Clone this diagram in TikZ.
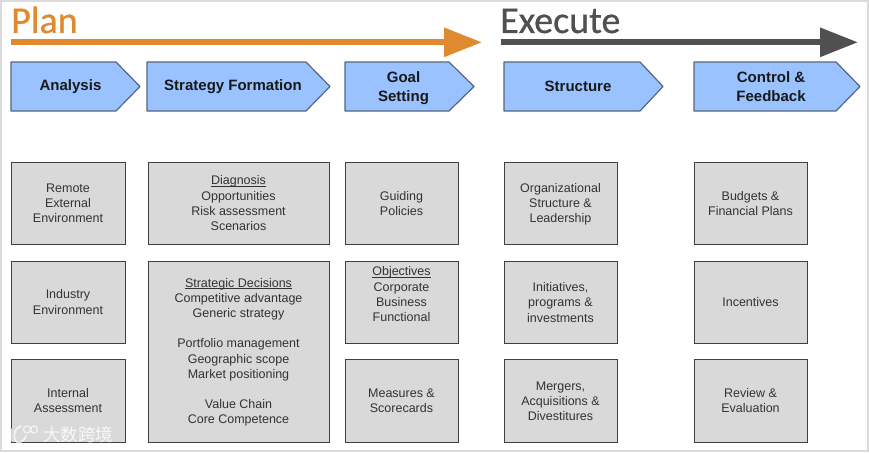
\documentclass[tikz,border=0pt]{standalone}
\usepackage{fontspec}
\setmainfont{Liberation Sans}
\newfontfamily\titlefont[FakeBold=0.6]{Carlito}
\newfontfamily\cjkfont{Noto Sans CJK SC}
\usetikzlibrary{arrows.meta,calc}
\definecolor{planor}{HTML}{E08A30}
\definecolor{execgr}{HTML}{505050}
\definecolor{chevblue}{HTML}{99C2FF}
\definecolor{chevedge}{HTML}{56667C}
\definecolor{boxgray}{HTML}{D9D9D9}
\definecolor{boxedge}{HTML}{404040}
\tikzset{
  x=1pt,y=-1pt,
  chev/.style={draw=chevedge,fill=chevblue,line width=1.2pt,line join=round},
  chevtext/.style={font=\bfseries\fontsize{15}{19}\selectfont,align=center,text=black!90,inner sep=0pt},
  infobox/.style={draw=boxedge,fill=boxgray,line width=1pt,minimum height=0pt,inner sep=0pt,outer sep=0pt},
  infotext/.style={font=\fontsize{12.5}{15.2}\selectfont,align=center,text=black!80,inner sep=0pt},
  banner/.style={line width=6pt,-{Triangle[length=38pt,width=28pt]}},
  titletext/.style={font=\titlefont\fontsize{38}{38}\selectfont,anchor=base west,inner sep=0pt},
  markmark/.style={white,opacity=.75,line cap=round},
}
\newcommand{\ulk}[1]{\underline{\smash{#1}\vphantom{A}}}
\newcommand{\chevron}[7]{% name, left, shoulder, tip, text x, text y, text
  \draw[chev] (#2,62) -- (#3,62) -- (#4,86.5) -- (#3,111) -- (#2,111) -- cycle;
  \node[chevtext] (#1) at (#5,#6) {#7};
}
\newcommand{\infocell}[7]{% name, x1, y1, x2, y2, text y, text
  \node[infobox,minimum width={(#4-#2-0.6)*1pt},minimum height={(#5-#3-0.6)*1pt}] (#1) at ({(#2+#4)/2},{(#3+#5)/2}) {};
  \node[infotext] (#1t) at ({(#2+#4)/2-0.5},#6) {#7};
}
\begin{document}
\begin{tikzpicture}
\useasboundingbox (0,0) rectangle (869,452);
\draw[draw=black!14,line width=2pt,fill=white] (1,1) rectangle (868,451);

\node[titletext,text=planor] (plan) at (11,33) {Plan};
\node[titletext,text=execgr] (execute) at (500,33) {Execute};
\coordinate (pa) at (11,42.3); \coordinate (pb) at (482,42.3);
\coordinate (ea) at (501,42.3); \coordinate (eb) at (858,42.3);
\draw[banner,draw=planor,fill=planor] (pa) -- (pb);
\draw[banner,draw=execgr,fill=execgr] (ea) -- (eb);

\chevron{analysis}{11}{116}{140}{70.5}{86.5}{Analysis}
\chevron{strategy}{147}{306}{330}{233}{86.5}{Strategy Formation}
\chevron{goal}{345}{449}{474}{403.5}{88}{Goal\\Setting}
\chevron{structure}{504}{640}{663}{578}{86.5}{Structure}
\chevron{control}{694}{836}{860}{771}{86.5}{Control \&\\Feedback}

\infocell{a1}{11}{162}{126}{245}{203.5}{Remote\\External\\Environment}
\infocell{a2}{11}{261}{126}{344}{302}{Industry\\Environment}
\infocell{a3}{11}{359}{126}{443}{400.5}{Internal\\Assessment}

\infocell{s1}{148}{162}{330}{245}{203.5}{\ulk{Diagnosis}\\Opportunities\\Risk assessment\\Scenarios}
\infocell{s2}{148}{261}{330}{443}{352.5}{\ulk{Strategic Decisions}\\Competitive advantage\\Generic strategy\\[15.2pt]Portfolio management\\Geographic scope\\Market positioning\\[15.2pt]Value Chain\\Core Competence}

\infocell{g1}{345}{162}{459}{245}{203.5}{Guiding\\Policies}
\infocell{g2}{345}{261}{459}{344}{294.5}{\ulk{Objectives}\\Corporate\\Business\\Functional}
\infocell{g3}{345}{359}{459}{443}{400.5}{Measures \&\\Scorecards}

\infocell{t1}{504}{162}{618}{245}{204}{Organizational\\Structure \&\\Leadership}
\infocell{t2}{504}{261}{618}{344}{302.5}{Initiatives,\\programs \&\\investments}
\infocell{t3}{504}{359}{618}{443}{401}{Mergers,\\Acquisitions \&\\Divestitures}

\infocell{c1}{694}{162}{808}{245}{203.5}{Budgets \&\\Financial Plans}
\infocell{c2}{694}{261}{808}{344}{302}{Incentives}
\infocell{c3}{694}{359}{808}{443}{400.5}{Review \&\\Evaluation}

% watermark
\node[font=\cjkfont\fontsize{17.5}{18}\selectfont,text=white,opacity=.8,inner sep=0pt,anchor=west] (wm) at (43,435) {大数跨境};
\draw[markmark,line width=1.6pt] (11,429) -- (11,441);
\draw[markmark,line width=1.6pt] (26,436) .. controls (23,443) and (17,445) .. (15,440) .. controls (13,434) and (15,428) .. (21,426);
\draw[markmark,line width=1.2pt] (27,429.5) circle (3.5) (34,429.5) circle (3.5);
\end{tikzpicture}
\end{document}
